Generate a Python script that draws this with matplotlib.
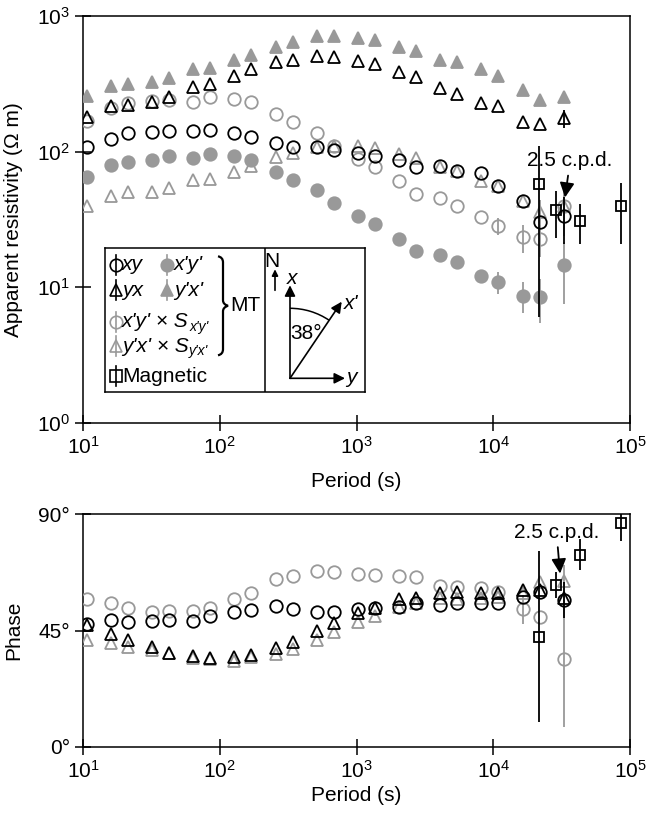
import numpy as np
import matplotlib.pyplot as plt
from matplotlib.ticker import FixedLocator, FuncFormatter, NullLocator
from matplotlib.patches import Arc, PathPatch
from matplotlib.path import Path

plt.rcParams['font.family'] = ['Liberation Sans', 'DejaVu Sans']
plt.rcParams['mathtext.fontset'] = 'custom'
plt.rcParams['mathtext.rm'] = 'Liberation Sans'
plt.rcParams['mathtext.it'] = 'Liberation Sans:italic'

# periods of the MT estimates (s)
period = [10.67, 16, 21.33, 32, 42.67, 64, 85.33, 128, 170.67, 256, 341.33, 512,
          682.67, 1024, 1365.33, 2048, 2730.67, 4096, 5461.33, 8192, 10922.67,
          16384, 21845.33, 32768]

# apparent resistivity (ohm m)
rho_xy = [109, 124, 137, 139, 143, 143, 145, 137, 128, 116, 109, 108, 103.5, 97.8,
          93.5, 87.3, 76.8, 78.8, 72.4, 69.7, 55.6, 43.5, 30.5, 33.7]
rho_yx = [179, 216, 221, 231, 252, 298, 316, 363, 406, 456, 474, 510, 496, 469,
          443, 389, 353, 293, 266, 228, 216, 165, 160, 177]
rho_xpyp = [64.7, 79.8, 84.4, 87.3, 92.5, 89.4, 96.1, 93.4, 86.8, 71.2, 62.2, 52.5,
            41.7, 33.8, 29.3, 22.7, 18.6, 17.3, 15.3, 12.2, 11.0, 8.7, 8.5, 14.5]
rho_ypxp = [259, 306, 316, 328, 349, 406, 411, 474, 516, 594, 640, 708, 716, 689,
            668, 594, 555, 474, 461, 406, 363, 286, 242, 252]
rho_xpyp_s = [169, 209, 228, 235, 240, 231, 252, 244, 231, 190, 166, 137, 111, 89,
              77, 61, 48.7, 45.4, 39.6, 32.9, 28.5, 23.4, 22.7, 40]
rho_ypxp_s = [40, 47.4, 50.2, 50.8, 53.8, 61.8, 62.9, 71.2, 78.9, 91, 97.8, 107.7,
              110.6, 110.6, 105.8, 96.1, 89.3, 76.8, 72.4, 61.1, 56.1, 43.5, 35.7, 39.6]

# error bars (only the long periods carry visible bars)
err_xy = [0] * 23 + [13]
err_yx = [0] * 23 + [27]
err_xpyp = [0] * 20 + [2, 2.2, 3, 7]
err_xpyp_s = [0] * 20 + [4, 5.5, 6, 16]
err_ypxp_s = [0] * 22 + [8, 12]

# phase (degrees)
ph_xy = [47.4, 49.1, 48.2, 48.7, 49.1, 48.8, 50.7, 52.3, 52.9, 54.5, 53.3, 52.3,
         52.0, 53.3, 53.8, 54.2, 55.5, 54.8, 55.7, 55.7, 55.7, 58.1, 59.8, 56.8]
ph_yx = [47.1, 43.6, 41.3, 38.7, 36.4, 35.2, 34.3, 34.6, 35.5, 38.1, 40.7, 44.9,
         47.8, 51.6, 53.6, 57.0, 57.4, 59.4, 60.0, 59.4, 59.4, 60.6, 60.6, 57.4]
ph_xpyp = [57.05, 55.7, 53.6, 52.3, 52.6, 52.6, 53.6, 57.2, 59.6, 64.9, 66.1, 68.0,
           67.5, 66.8, 66.4, 66.1, 65.5, 62.2, 61.9, 61.3, 60.0, 53.2, 50.1, 33.9]
ph_ypxp = [41.3, 40.1, 38.5, 37.5, 36.4, 34.3, 33.9, 33.3, 34.9, 35.8, 37.7, 41.3,
           44.5, 48.4, 50.6, 54.2, 55.7, 57.4, 57.0, 57.4, 57.8, 59.4, 63.8, 64.2]
perr_xy = [0] * 23 + [7]
perr_xpyp = [0] * 21 + [5.5, 0, 26]
perr_ypxp = [0] * 23 + [6]

# magnetic transfer function estimates (4, 3, 2, 1 c.p.d.)
mag_period = [21600, 28800, 43200, 86400]
mag_rho = [58, 37, 31, 40]
mag_rho_err = [52, 14, 10, 19]
mag_phase = [42.6, 62.6, 74.2, 86.4]
mag_phase_err = [33, 5, 6, 7]

gray = '#999999'
fs = 15

fig = plt.figure(figsize=(6.46, 8.16), dpi=100)
ax1 = fig.add_axes([83/646, 1-423/816, 547/646, 407/816])
ax2 = fig.add_axes([83/646, 1-747/816, 547/646, 233/816])

def marks(ax, x, y, err, marker, face, edge, ms=8.5, z=3):
    if err is not None:
        ax.errorbar(x, y, yerr=err, fmt='none', ecolor=edge, elinewidth=1.3,
                    capsize=0, zorder=z)
    ax.plot(x, y, linestyle='none', marker=marker, ms=ms, mfc=face, mec=edge,
            mew=1.3, zorder=z)

# resistivity
marks(ax1, period, rho_ypxp_s, err_ypxp_s, '^', 'none', gray)
marks(ax1, period, rho_xpyp_s, err_xpyp_s, 'o', 'none', gray, ms=9)
marks(ax1, period, rho_xpyp, err_xpyp, 'o', gray, gray, ms=9)
marks(ax1, period, rho_ypxp, None, '^', gray, gray)
marks(ax1, period, rho_xy, err_xy, 'o', 'none', 'k', ms=9, z=4)
marks(ax1, period, rho_yx, err_yx, '^', 'none', 'k', z=4)
marks(ax1, mag_period, mag_rho, mag_rho_err, 's', 'none', 'k', ms=7.5, z=5)

# phase
marks(ax2, period, ph_ypxp, perr_ypxp, '^', 'none', gray)
marks(ax2, period, ph_xpyp, perr_xpyp, 'o', 'none', gray, ms=9)
marks(ax2, period, ph_xy, perr_xy, 'o', 'none', 'k', ms=9, z=4)
marks(ax2, period, ph_yx, None, '^', 'none', 'k', z=4)
marks(ax2, mag_period, mag_phase, mag_phase_err, 's', 'none', 'k', ms=7.5, z=5)

for ax in (ax1, ax2):
    ax.set_xscale('log')
    ax.set_xlim(10, 1e5)
    ax.xaxis.set_major_locator(FixedLocator([1e1, 1e2, 1e3, 1e4, 1e5]))
    ax.xaxis.set_minor_locator(NullLocator())
    ax.xaxis.set_major_formatter(FuncFormatter(lambda v, p: r'$10^{%d}$' % round(np.log10(v))))
    ax.tick_params(direction='inout', length=11, width=1.1, labelsize=fs,
                   top=False, right=False, pad=4)
    for s in ax.spines.values():
        s.set_linewidth(1.1)

ax1.set_xlabel('Period (s)', fontsize=fs, labelpad=10)
ax2.set_xlabel('Period (s)', fontsize=fs, labelpad=3)

ax1.set_yscale('log')
ax1.set_ylim(1, 1000)
ax1.yaxis.set_major_locator(FixedLocator([1, 10, 100, 1000]))
ax1.yaxis.set_minor_locator(NullLocator())
ax1.yaxis.set_major_formatter(FuncFormatter(lambda v, p: r'$10^{%d}$' % round(np.log10(v))))
ax1.set_ylabel('Apparent resistivity (Ω m)', fontsize=fs)
ax1.yaxis.set_label_coords(-0.11, 0.5)

ax2.set_ylim(0, 90)
ax2.yaxis.set_major_locator(FixedLocator([0, 45, 90]))
ax2.yaxis.set_major_formatter(FuncFormatter(lambda v, p: '%d°' % v))
ax2.set_ylabel('Phase', fontsize=fs)
ax2.yaxis.set_label_coords(-0.11, 0.5)

arrow = dict(arrowstyle='-|>', color='k', lw=1.3, mutation_scale=22,
             shrinkA=2, shrinkB=0)
ax1.annotate('2.5 c.p.d.', xy=(33500, 46), xytext=(36500, 86), fontsize=fs,
             ha='center', va='center', arrowprops=arrow, zorder=6)
ax2.annotate('2.5 c.p.d.', xy=(30800, 67), xytext=(29000, 83), fontsize=fs,
             ha='center', va='center', arrowprops=arrow, zorder=6)

# legend box with compass, drawn in pixel units
ax3 = fig.add_axes([105/646, 1-391.7/816, 260/646, 143.4/816])
ax3.set_xlim(0, 260)
ax3.set_ylim(143.4, 0)
ax3.set_xticks([])
ax3.set_yticks([])
for s in ax3.spines.values():
    s.set_linewidth(1.1)
ax3.plot([160, 160], [0, 143.4], color='k', lw=1.1)

def key(u, v, marker, face, edge, ms=9):
    ax3.plot([u, u], [v - 10, v + 10], color=edge, lw=1.2)
    ax3.plot([u], [v], marker=marker, ms=ms, mfc=face, mec=edge, mew=1.2)

rows = [16.7, 41.7, 73.4, 97.7, 127.7]
key(11, rows[0], 'o', 'none', 'k', 9)
key(11, rows[1], '^', 'none', 'k', 8)
key(62, rows[0], 'o', gray, gray, 9)
key(62, rows[1], '^', gray, gray, 8)
key(11, rows[2], 'o', 'none', gray, 9)
key(11, rows[3], '^', 'none', gray, 8)
key(11, rows[4], 's', 'none', 'k', 8)
ax3.text(17, rows[0], 'xy', style='italic', fontsize=fs, va='center')
ax3.text(17, rows[1], 'yx', style='italic', fontsize=fs, va='center')
ax3.text(69, rows[0], "x'y'", style='italic', fontsize=fs, va='center')
ax3.text(69, rows[1], "y'x'", style='italic', fontsize=fs, va='center')
ax3.text(17, rows[4], 'Magnetic', fontsize=fs, va='center')

renderer = fig.canvas.get_renderer()
for v, a, b in [(rows[2], "x'y'", "x'y'"), (rows[3], "y'x'", "y'x'")]:
    t = ax3.text(17, v, a + ' × S', style='italic', fontsize=fs, va='center')
    bb = t.get_window_extent(renderer)
    u_end = ax3.transData.inverted().transform((bb.x1, bb.y0))[0]
    ax3.text(u_end + 0.5, v + 5, b, style='italic', fontsize=10, va='center')

# brace grouping the MT entries
brace = Path([(113, 8), (118, 9), (118, 14), (118, 52), (118, 56), (123, 57.5),
              (118, 59), (118, 63), (118, 101), (118, 106), (113, 107)],
             [Path.MOVETO, Path.CURVE3, Path.CURVE3, Path.LINETO, Path.CURVE3,
              Path.CURVE3, Path.CURVE3, Path.CURVE3, Path.LINETO, Path.CURVE3,
              Path.CURVE3])
ax3.add_patch(PathPatch(brace, fill=False, lw=1.6, color='k'))
ax3.text(125, 57.5, 'MT', fontsize=fs, va='center')

# compass
o = (185, 130)
head = dict(arrowstyle='-|>', color='k', lw=1.2, mutation_scale=16,
            shrinkA=0, shrinkB=0)
ax3.annotate('', xy=(185, 37), xytext=o, arrowprops=head)
ax3.annotate('', xy=(240, 130), xytext=o, arrowprops=head)
ax3.annotate('', xy=(236.7, 53.4), xytext=o, arrowprops=head)
ax3.annotate('', xy=(170, 21), xytext=(170, 42),
             arrowprops=dict(arrowstyle='-|>', color='k', lw=1.2,
                             mutation_scale=9, shrinkA=0, shrinkB=0))
ax3.text(166.5, 13, 'N', fontsize=fs, ha='center', va='center')
ax3.text(187, 30, 'x', style='italic', fontsize=fs, ha='center', va='center')
ax3.text(246, 129, 'y', style='italic', fontsize=fs, ha='center', va='center')
ax3.text(246, 55, "x'", style='italic', fontsize=fs, ha='center', va='center')
ax3.add_patch(Arc(o, 140, 140, theta1=270, theta2=304, color='k', lw=1.1))
ax3.text(185, 85, '38°', fontsize=fs, ha='left', va='center')

fig.savefig('out.png', dpi=100)
